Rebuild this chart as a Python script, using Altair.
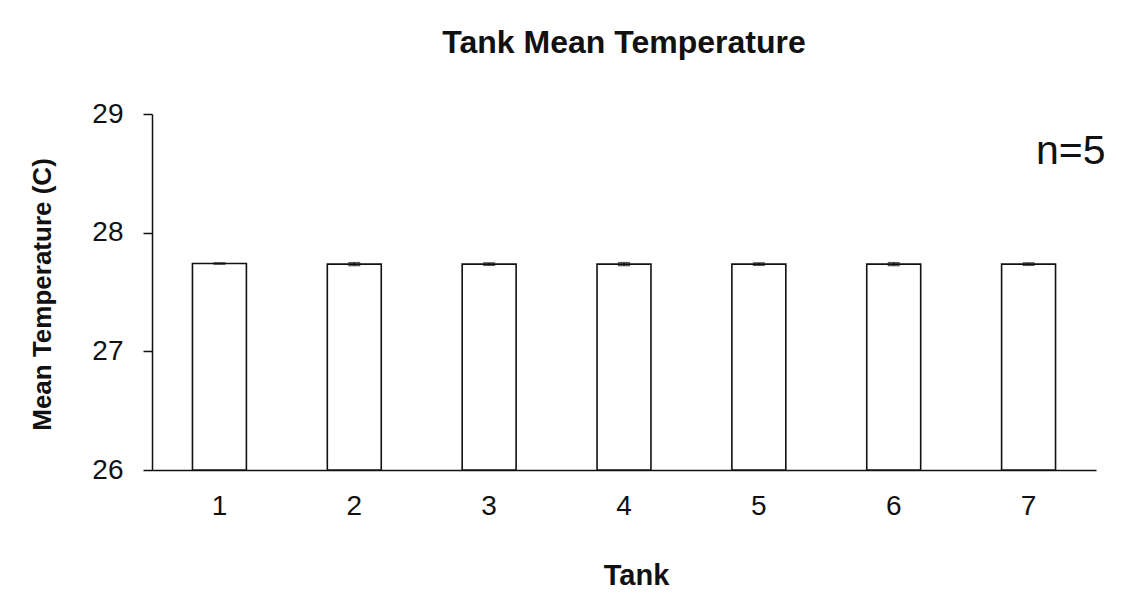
import altair as alt
import pandas as pd

tanks = ["1", "2", "3", "4", "5", "6", "7"]
mean_temp = [27.74, 27.735, 27.735, 27.735, 27.735, 27.735, 27.735]
sem = [0.005, 0.012, 0.01, 0.012, 0.01, 0.012, 0.01]
y_ticks = [26, 27, 28, 29]
annotation = ["n=5"]

df = pd.DataFrame({"tank": tanks, "mean": mean_temp, "err": sem})
df["lo"] = df["mean"] - df["err"]
df["hi"] = df["mean"] + df["err"]

FONT = "Liberation Sans"

x_enc = alt.X(
    "tank:N",
    sort=tanks,
    scale=alt.Scale(paddingInner=0.6, paddingOuter=0.3),
    axis=alt.Axis(
        title="Tank",
        labelAngle=0,
        ticks=False,
        labelPadding=22,
        labelFontSize=28,
        labelColor="#111",
        titleFontSize=29,
        titleFontWeight="bold",
        titleColor="#111",
        titleX=484,
        titleY=114,
        titleAlign="center",
        titleBaseline="alphabetic",
        domainColor="#111",
        domainWidth=1.5,
        grid=False,
    ),
)

y_scale = alt.Scale(domain=[26, 29], zero=False, nice=False)

bars = alt.Chart(df).mark_bar(
    fill="white", stroke="#111", strokeWidth=1.6
).encode(
    x=x_enc,
    y=alt.Y(
        "mean:Q",
        scale=y_scale,
        axis=alt.Axis(
            title="Mean Temperature (C)",
            values=y_ticks,
            format="d",
            tickSize=9,
            tickColor="#111",
            tickWidth=1.5,
            labelPadding=20,
            labelFontSize=28,
            labelColor="#111",
            titleFontSize=26,
            titleFontWeight="bold",
            titleColor="#111",
            titleAngle=270,
            titleX=-102,
            titleY=180,
            titleAlign="center",
            titleBaseline="alphabetic",
            domainColor="#111",
            domainWidth=1.5,
            grid=False,
        ),
    ),
    y2=alt.datum(26),
)

err_rule = alt.Chart(df).mark_rule(color="#111", strokeWidth=1.5).encode(
    x=alt.X("tank:N", sort=tanks),
    y=alt.Y("lo:Q", scale=y_scale),
    y2="hi:Q",
)

caps_hi = alt.Chart(df).mark_tick(color="#111", size=12, thickness=1.5).encode(
    x=alt.X("tank:N", sort=tanks),
    y=alt.Y("hi:Q", scale=y_scale),
)
caps_lo = alt.Chart(df).mark_tick(color="#111", size=12, thickness=1.5).encode(
    x=alt.X("tank:N", sort=tanks),
    y=alt.Y("lo:Q", scale=y_scale),
)

note = alt.Chart(pd.DataFrame({"label": annotation})).mark_text(
    font=FONT, fontSize=41, color="#111", align="left", baseline="alphabetic"
).encode(
    text="label:N",
    x=alt.value(884),
    y=alt.value(50),
)

chart = alt.layer(bars, err_rule, caps_hi, caps_lo, note).properties(
    width=944,
    height=356,
    padding={"left": 144, "top": 106, "right": 21, "bottom": 119},
    autosize=alt.AutoSizeParams(type="none"),
    background="white",
    title=alt.TitleParams(
        "Tank Mean Temperature",
        fontSize=32,
        fontWeight="bold",
        font=FONT,
        color="#111",
        anchor="middle",
        offset=40,
    ),
).configure(font=FONT).configure_view(stroke=None)

chart.save("out.html", embed_options={"renderer": "svg", "actions": False})
